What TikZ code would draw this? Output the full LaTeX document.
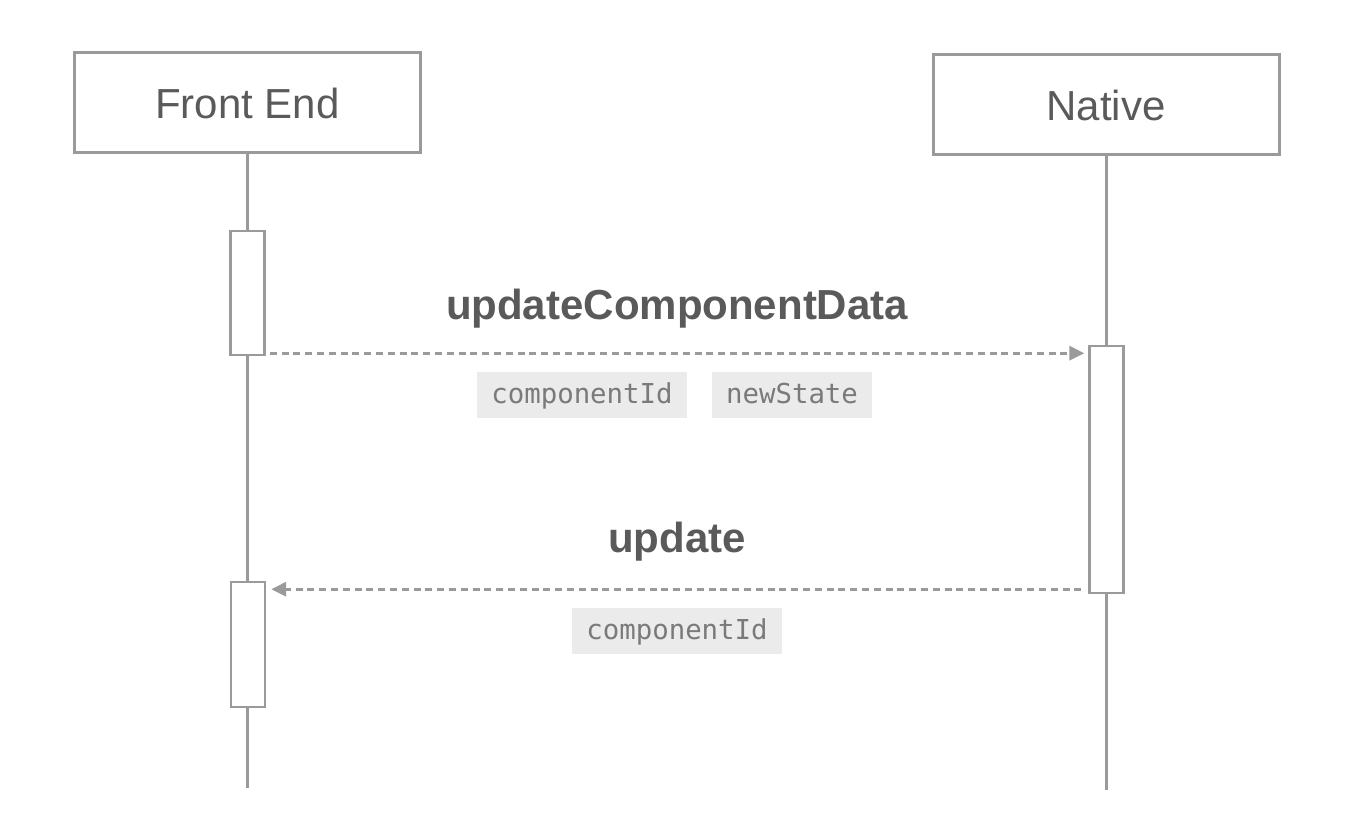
\documentclass[tikz,border=0pt]{standalone}
\usepackage{fontspec}
\setmainfont{Liberation Sans}
\newfontfamily\codefont{DejaVu Sans Mono}
\usetikzlibrary{arrows.meta}

\definecolor{linegray}{HTML}{9A9A9A}
\definecolor{textgray}{HTML}{5A5A5A}
\definecolor{codegray}{HTML}{7A7A7A}
\definecolor{codebg}{HTML}{EBEBEB}

\tikzset{
	actor/.style={draw=linegray, line width=1.5pt, fill=white, minimum width=173pt,
		minimum height=50pt, inner sep=0pt, text=textgray, font=\fontsize{21}{24}\selectfont},
	lifeline/.style={draw=linegray, line width=1.5pt},
	activation/.style={draw=linegray, line width=1.2pt, fill=white, minimum width=17pt,
		inner sep=0pt},
	msg/.style={draw=linegray, line width=1.5pt, dash pattern=on 3.5pt off 2.4pt,
		-{Triangle[length=7.5pt,width=7pt]}},
	msglabel/.style={text=textgray, font=\fontsize{21}{24}\selectfont\bfseries, anchor=base},
	param/.style={fill=codebg, text=codegray, font=\codefont\fontsize{13.7}{16}\selectfont,
		inner xsep=7pt, minimum height=23pt, text height=11pt, text depth=2pt}
}

\begin{document}
\begin{tikzpicture}[x=0.5pt, y=-0.5pt]
	\useasboundingbox (0,0) rectangle (1347,833);

	% actors
	\node[actor] (front) at (247.5,103) {Front End};
	\node[actor] (native) at (1106,105) {Native};

	% lifelines
	\coordinate (frontEnd) at (247.5,788);
	\coordinate (nativeEnd) at (1106,790);
	\draw[lifeline] (front.south) -- (frontEnd);
	\draw[lifeline] (native.south) -- (nativeEnd);

	% activation bars
	\node[activation, minimum height=62pt] (frontAct1) at (247.5,293) {};
	\node[activation, minimum height=62.5pt] (frontAct2) at (248,644.5) {};
	\node[activation, minimum height=123.5pt] (nativeAct) at (1106.5,469.5) {};

	% updateComponentData
	\coordinate (callStart) at ([xshift=2pt,yshift=1.5pt]frontAct1.south east);
	\draw[msg] (callStart) -- ([xshift=-2pt]callStart -| nativeAct.west);
	\node[msglabel] (callLabel) at (677,320) {updateComponentData};
	\node[param] (callId) at (582,395) {componentId};
	\node[param] (callState) at (792,395) {newState};

	% update
	\coordinate (backStart) at ([xshift=-3.5pt,yshift=2.5pt]nativeAct.south west);
	\draw[msg] (backStart) -- ([xshift=2.5pt]backStart -| frontAct2.east);
	\node[msglabel] (backLabel) at (677,552) {update};
	\node[param] (backId) at (677,630.5) {componentId};
\end{tikzpicture}
\end{document}
